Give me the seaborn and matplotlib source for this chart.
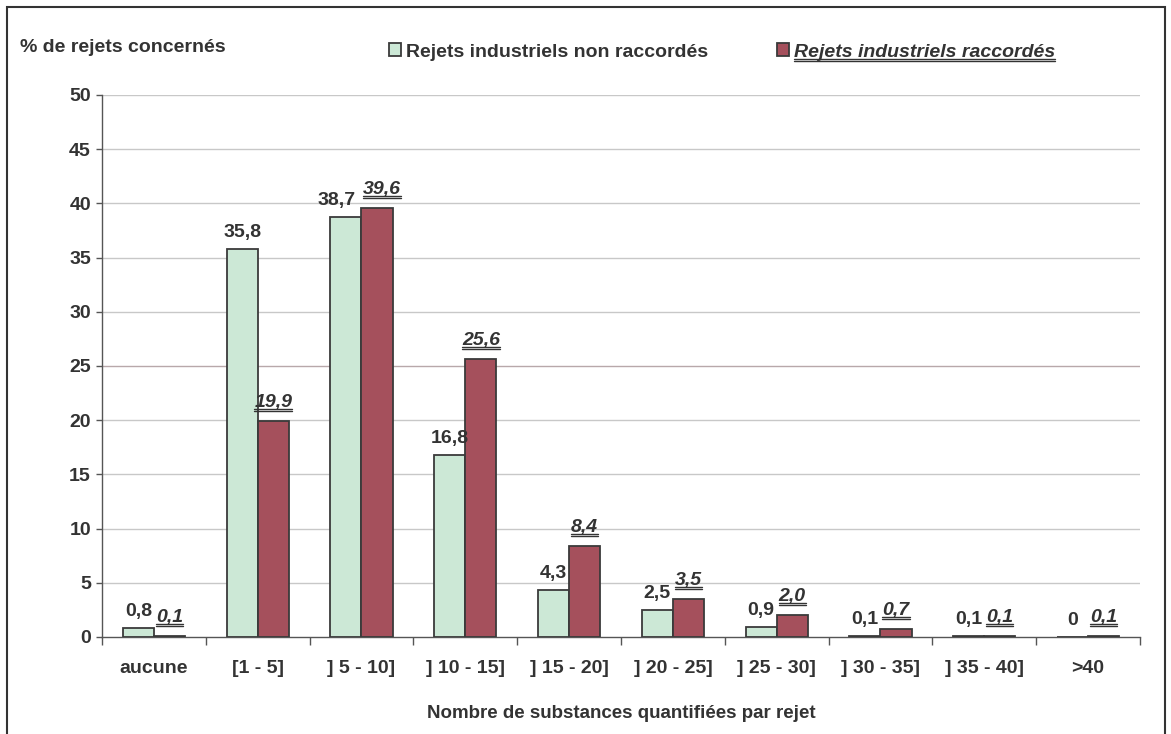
import numpy as np
import pandas as pd
import seaborn as sns
import matplotlib.pyplot as plt
from matplotlib.lines import Line2D
from matplotlib.patches import Rectangle

categories = ["aucune", "[1 - 5]", "] 5 - 10]", "] 10 - 15]", "] 15 - 20]",
              "] 20 - 25]", "] 25 - 30]", "] 30 - 35]", "] 35 - 40]", ">40"]
non_raccordes = [0.8, 35.8, 38.7, 16.8, 4.3, 2.5, 0.9, 0.1, 0.1, 0.0]
raccordes = [0.1, 19.9, 39.6, 25.6, 8.4, 3.5, 2.0, 0.7, 0.1, 0.1]
series_names = ["Rejets industriels non raccordés", "Rejets industriels raccordés"]
y_ticks = [0, 5, 10, 15, 20, 25, 30, 35, 40, 45, 50]

TXT = "#333333"
EDGE = "#3a3a3a"
colors = ["#cce8d6", "#a5505c"]
FS = 14

sns.set_theme(style="white")
plt.rcParams["font.family"] = ["Liberation Sans", "DejaVu Sans"]
plt.rcParams["font.weight"] = "bold"

df = pd.DataFrame({
    "cat": categories * 2,
    "val": non_raccordes + raccordes,
    "serie": [series_names[0]] * len(categories) + [series_names[1]] * len(categories),
})

fig = plt.figure(figsize=(11.71, 7.34), dpi=100)
ax = fig.add_axes([0.0871, 0.1322, 0.8864, 0.7384])

sns.barplot(data=df, x="cat", y="val", hue="serie", palette=colors, width=0.6,
            edgecolor=EDGE, linewidth=1.3, saturation=1, ax=ax, zorder=3)

ax.set_ylim(0, 50)
ax.set_xlim(-0.5, len(categories) - 0.5)
ax.set_yticks(y_ticks)
ax.set_yticklabels([str(v) for v in y_ticks], fontsize=FS, fontweight="bold", color=TXT)
for v in y_ticks[1:]:
    ax.axhline(v, color="#b8a8aa" if v == 25 else "#c8c8c8", linewidth=1, zorder=1)

# category labels between boundary ticks
ax.set_xticks(np.arange(-0.5, len(categories), 1))
ax.set_xticklabels([])
ax.set_xticks(np.arange(len(categories)), minor=True)
ax.set_xticklabels(categories, minor=True, fontsize=FS, fontweight="bold", color=TXT)
ax.tick_params(axis="x", which="major", direction="out", length=6, width=1, color="#555555", bottom=True)
ax.tick_params(axis="x", which="minor", length=0, pad=16.5)
ax.tick_params(axis="y", direction="out", length=4, width=1, color="#555555", left=True, pad=4)

for s in ["top", "right"]:
    ax.spines[s].set_visible(False)
for s in ["left", "bottom"]:
    ax.spines[s].set_color("#555555")
    ax.spines[s].set_linewidth(1)

ax.set_xlabel("Nombre de substances quantifiées par rejet", fontsize=13.5,
              fontweight="bold", color=TXT, labelpad=20.5)
ax.set_ylabel("")
fig.text(0.017, 0.929, "% de rejets concernés", fontsize=FS, fontweight="bold", color=TXT)

def fmt(v):
    return "0" if v == 0 else f"{v:.1f}".replace(".", ",")

lbl_green = ax.bar_label(ax.containers[0], labels=[fmt(v) for v in non_raccordes],
                         padding=5.8, fontsize=FS, fontweight="bold", color=TXT)
lbl_red = ax.bar_label(ax.containers[1], labels=[f"{v:.1f}".replace(".", ",") for v in raccordes],
                       padding=7.2, fontsize=FS, fontweight="bold", fontstyle="italic", color=TXT)
# the two labels of "] 5 - 10]" are pushed apart so they don't collide
lbl_green[2].xyann = (-6.5, 5.8)
lbl_red[2].xyann = (3.5, 7.2)

leg = ax.legend(loc="center", bbox_to_anchor=(0.6166, 0.929), bbox_transform=fig.transFigure,
                ncol=2, frameon=False, fontsize=FS, handlelength=0.65, handleheight=0.65,
                handletextpad=0.25, columnspacing=3.5)
for t in leg.get_texts():
    t.set_fontweight("bold")
    t.set_color(TXT)
leg.get_texts()[1].set_fontstyle("italic")
for h in leg.legend_handles:
    h.set_edgecolor(EDGE)
    h.set_linewidth(1.3)

# outer frame
fig.patches.append(Rectangle((0.006, -0.02), 0.989, 1.01, transform=fig.transFigure,
                             fill=False, edgecolor="#333333", linewidth=1.5))

# double underline on the "raccordés" texts
fig.canvas.draw()
inv = fig.transFigure.inverted()
for t in list(lbl_red) + [leg.get_texts()[1]]:
    bb = t.get_window_extent()
    for dy in (2.0, 0.0):
        (x0, y0), (x1, _) = inv.transform([(bb.x0, bb.y0 + dy), (bb.x1, bb.y0 + dy)])
        fig.lines.append(Line2D([x0, x1], [y0, y0], transform=fig.transFigure,
                                color=TXT, linewidth=1))

fig.savefig("out.png", dpi=100)
